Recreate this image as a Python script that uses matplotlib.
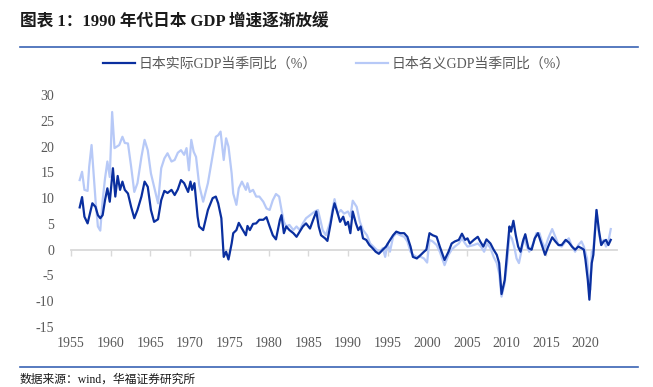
"""图表 1：1990 年代日本 GDP 增速逐渐放缓。"""

import matplotlib

matplotlib.use("Agg")
import matplotlib.pyplot as plt
from matplotlib.lines import Line2D

# ── 字体与样式 ──
plt.rcParams.update({
    "font.family": ["Liberation Serif", "Noto Sans CJK SC", "DejaVu Sans"],
    "font.size": 10,
    "axes.unicode_minus": False,
})

TEXT_GRAY = "#595959"
REAL_COLOR = "#0a2f9f"
NOMINAL_COLOR = "#b7c9f7"
RULE_COLOR = "#3a64b4"

# ── 数据（从图中读取，约半年一个点）──
real_years = [
    1956.1, 1956.4, 1956.7, 1957.1, 1957.7, 1958.1, 1958.4, 1958.7, 1959.0, 1959.3,
    1959.6, 1959.9, 1960.3, 1960.6, 1960.9, 1961.2, 1961.5, 1961.8, 1962.2, 1962.6,
    1963.0, 1963.4, 1963.9, 1964.3, 1964.7, 1965.1, 1965.5, 1966.0, 1966.4, 1966.8,
    1967.2, 1967.7, 1968.1, 1968.5, 1968.9, 1969.3, 1969.8, 1970.1, 1970.3, 1970.6,
    1971.0, 1971.2, 1971.7, 1972.3, 1972.9, 1973.3, 1973.6, 1974.0, 1974.3, 1974.6,
    1974.9, 1975.3, 1975.5, 1975.9, 1976.2, 1976.6, 1977.1, 1977.3, 1977.6, 1978.0,
    1978.4, 1978.8, 1979.3, 1979.7, 1980.1, 1980.5, 1980.9, 1981.4, 1981.6, 1981.9,
    1982.2, 1982.6, 1983.1, 1983.5, 1983.9, 1984.3, 1984.7, 1985.2, 1985.6, 1986.0,
    1986.3, 1986.6, 1987.1, 1987.4, 1987.8, 1988.1, 1988.3, 1988.7, 1989.0, 1989.4,
    1989.7, 1990.0, 1990.3, 1990.6, 1991.0, 1991.3, 1991.6, 1991.9, 1992.3, 1992.7,
    1993.1, 1993.5, 1993.9, 1994.4, 1994.8, 1995.2, 1995.7, 1996.1, 1996.6, 1997.1,
    1997.5, 1997.9, 1998.2, 1998.7, 1999.2, 1999.6, 1999.9, 2000.3, 2000.7, 2001.2,
    2001.6, 2002.2, 2002.7, 2003.1, 2003.5, 2004.0, 2004.4, 2004.8, 2005.1, 2005.4,
    2005.9, 2006.4, 2006.7, 2007.1, 2007.5, 2008.0, 2008.4, 2008.8, 2009.1, 2009.4,
    2009.8, 2010.1, 2010.4, 2010.6, 2010.9, 2011.2, 2011.5, 2011.8, 2012.1, 2012.4,
    2012.8, 2013.2, 2013.6, 2014.0, 2014.5, 2014.9, 2015.3, 2015.8, 2016.2, 2016.6,
    2017.0, 2017.5, 2017.9, 2018.3, 2018.7, 2019.1, 2019.5, 2019.8, 2020.0, 2020.3,
    2020.5, 2020.8, 2021.0, 2021.4, 2021.7, 2022.0, 2022.3, 2022.6, 2022.9, 2023.2,
]
real_growth = [
    8.2, 10.2, 6.4, 5.1, 9.0, 8.3, 6.7, 6.1, 6.7, 9.6,
    11.9, 9.3, 15.8, 10.3, 14.3, 11.6, 13.2, 11.6, 10.9, 8.3,
    6.1, 7.7, 10.3, 13.2, 12.2, 7.7, 5.4, 5.9, 9.6, 11.4,
    11.0, 11.6, 10.6, 11.7, 13.5, 12.9, 11.2, 13.2, 11.6, 12.9,
    6.4, 4.5, 3.8, 7.7, 10.0, 10.3, 9.0, 6.1, -1.4, -0.4,
    -1.9, 1.2, 3.2, 3.8, 5.2, 4.1, 2.8, 4.6, 3.8, 5.0,
    5.1, 5.8, 5.8, 6.3, 4.5, 2.8, 2.0, 5.8, 6.7, 3.2,
    4.5, 3.8, 3.2, 2.5, 3.5, 4.5, 5.1, 4.1, 5.8, 7.4,
    4.5, 2.8, 2.2, 1.7, 5.0, 7.7, 9.0, 7.0, 5.4, 6.4,
    4.8, 5.4, 3.2, 7.4, 5.1, 3.8, 4.5, 2.2, 1.9, 0.9,
    0.3, -0.4, -0.8, 0.0, 0.6, 1.6, 2.8, 3.5, 3.2, 3.2,
    2.5, 0.6, -1.4, -1.7, -1.0, -0.4, 0.0, 3.2, 2.8, 2.5,
    0.6, -2.0, -0.4, 1.2, 1.6, 1.9, 3.1, 1.9, 2.2, 1.2,
    1.9, 2.5, 1.6, 0.6, 2.0, 1.2, 0.0, -1.0, -2.6, -8.6,
    -5.9, -0.7, 4.5, 3.5, 5.6, 2.8, 0.6, -0.4, 1.6, 3.0,
    0.3, 0.0, 2.2, 3.2, 0.9, -1.0, 0.6, 2.4, 1.6, 0.9,
    0.9, 1.9, 1.4, 0.6, 0.0, 0.6, 0.3, 0.0, -1.9, -5.9,
    -9.7, -2.6, -1.0, 7.7, 3.8, 0.9, 1.6, 1.9, 0.9, 1.9,
]

nominal_years = [
    1956.1, 1956.4, 1956.7, 1957.1, 1957.3, 1957.6, 1957.8, 1958.1, 1958.4, 1958.7,
    1959.0, 1959.3, 1959.6, 1959.9, 1960.2, 1960.5, 1960.8, 1961.1, 1961.5, 1961.8,
    1962.2, 1962.6, 1963.0, 1963.4, 1963.9, 1964.3, 1964.7, 1965.1, 1965.5, 1966.0,
    1966.4, 1966.8, 1967.2, 1967.7, 1968.1, 1968.5, 1968.9, 1969.3, 1969.6, 1969.9,
    1970.2, 1970.5, 1970.8, 1971.2, 1971.7, 1972.3, 1972.8, 1973.3, 1973.6, 1973.9,
    1974.3, 1974.6, 1974.9, 1975.3, 1975.5, 1975.9, 1976.2, 1976.6, 1977.1, 1977.3,
    1977.6, 1978.0, 1978.4, 1978.8, 1979.3, 1979.7, 1980.1, 1980.5, 1980.9, 1981.3,
    1981.6, 1981.9, 1982.2, 1982.6, 1983.1, 1983.5, 1983.9, 1984.3, 1984.7, 1985.2,
    1985.8, 1986.2, 1986.5, 1986.8, 1987.2, 1987.7, 1988.1, 1988.3, 1988.7, 1989.1,
    1989.5, 1990.0, 1990.3, 1990.6, 1991.1, 1991.5, 1991.9, 1992.4, 1992.8, 1993.2,
    1993.6, 1994.0, 1994.4, 1994.7, 1995.0, 1995.3, 1995.7, 1996.1, 1996.6, 1997.1,
    1997.5, 1997.9, 1998.2, 1998.7, 1999.2, 1999.6, 2000.0, 2000.3, 2000.7, 2001.2,
    2001.6, 2002.2, 2002.7, 2003.1, 2003.5, 2004.0, 2004.4, 2004.8, 2005.1, 2005.9,
    2006.4, 2006.8, 2007.2, 2007.6, 2008.0, 2008.4, 2008.8, 2009.1, 2009.4, 2009.8,
    2010.1, 2010.4, 2010.7, 2011.0, 2011.3, 2011.6, 2011.9, 2012.2, 2012.6, 2012.9,
    2013.4, 2013.8, 2014.2, 2014.5, 2014.9, 2015.3, 2015.8, 2016.2, 2016.6, 2017.0,
    2017.5, 2017.9, 2018.3, 2018.7, 2019.1, 2019.5, 2019.8, 2020.2, 2020.4, 2020.6,
    2020.8, 2021.0, 2021.4, 2021.7, 2022.0, 2022.3, 2022.6, 2022.9, 2023.2,
]
nominal_growth = [
    13.5, 15.1, 11.6, 11.4, 16.1, 20.3, 16.1, 9.6, 4.5, 3.7,
    9.6, 13.8, 17.1, 14.1, 26.7, 19.7, 20.0, 20.3, 21.9, 20.7,
    20.6, 16.1, 11.2, 12.9, 18.0, 21.3, 19.3, 14.8, 12.2, 9.0,
    15.8, 17.7, 18.7, 17.1, 17.4, 18.8, 19.3, 18.4, 19.7, 15.4,
    21.3, 19.0, 18.0, 12.5, 9.3, 12.9, 17.4, 21.9, 22.2, 22.9,
    17.4, 21.6, 20.0, 14.8, 10.9, 8.7, 11.9, 13.2, 11.6, 12.9,
    11.2, 11.6, 10.3, 10.3, 9.3, 8.0, 7.7, 9.6, 10.8, 10.3,
    7.7, 5.4, 4.5, 4.8, 3.8, 4.5, 3.8, 5.1, 6.1, 6.7,
    7.4, 7.7, 5.8, 3.8, 2.8, 5.1, 8.3, 9.8, 7.0, 7.7,
    7.0, 7.4, 6.4, 9.5, 8.3, 5.4, 3.8, 2.8, 1.2, 0.6,
    0.0, -0.4, 0.3, -1.4, 1.2, -0.4, 2.5, 3.2, 2.8, 2.5,
    1.6, -0.4, -1.0, -1.4, -1.4, -1.7, -2.5, 1.9, 1.6, 0.9,
    -0.4, -3.0, -1.0, 0.0, 0.6, 1.2, 2.2, 1.2, 0.6, 0.9,
    1.2, 0.6, -0.4, 1.2, 0.3, -1.4, -2.6, -4.6, -9.1, -6.5,
    -2.6, 2.8, 2.2, 0.6, -1.7, -2.6, -0.4, 2.2, 0.6, -0.4,
    1.2, 3.2, 3.2, 1.6, 0.3, 2.2, 4.0, 2.5, 0.9, 0.6,
    1.6, 2.2, 0.6, -0.4, 0.9, 1.6, 0.6, -1.7, -5.2, -7.8,
    -0.4, 0.0, 7.7, 3.2, 0.9, 1.9, 0.6, 1.6, 4.0,
]

x_ticks = list(range(1955, 2021, 5))
y_ticks = list(range(-15, 31, 5))

# ── 画布 ──
fig = plt.figure(figsize=(6.53, 3.87), dpi=100)
ax = fig.add_axes([0.1087, 0.155, 0.8363, 0.5995])

ax.plot(real_years, real_growth, color=REAL_COLOR, linewidth=1.6, label="日本实际GDP当季同比（%）", zorder=3)
ax.plot(nominal_years, nominal_growth, color=NOMINAL_COLOR, linewidth=1.6, label="日本名义GDP当季同比（%）", zorder=2)

ax.set_xlim(1955, 2024)
ax.set_ylim(-15, 30)

# 横轴线放在 0 处，刻度标签放到底部
for side in ("top", "right", "left"):
    ax.spines[side].set_visible(False)
ax.spines["bottom"].set_position(("data", 0))
ax.spines["bottom"].set_color("#d9d9d9")
ax.spines["bottom"].set_linewidth(1.3)
ax.spines["bottom"].set_zorder(1)

ax.set_xticks(x_ticks)
ax.set_xticklabels([str(y) for y in x_ticks])
ax.tick_params(axis="x", direction="out", length=4, width=1, color="#d9d9d9",
               pad=59, labelsize=10, labelcolor=TEXT_GRAY)
ax.set_yticks(y_ticks)
ax.tick_params(axis="y", length=0, pad=12, labelsize=10, labelcolor=TEXT_GRAY)
ax.grid(False)

ax.legend(loc="center", bbox_to_anchor=(0.515, 0.835), bbox_transform=fig.transFigure,
          ncol=2, frameon=False, fontsize=10, handlelength=2.3, handletextpad=0.25,
          columnspacing=2.8, labelcolor=TEXT_GRAY)

# ── 标题、分隔线、来源 ──
fig.text(20 / 653, 1 - 22 / 387, "图表 1：1990 年代日本 GDP 增速逐渐放缓",
         fontsize=12, fontweight="bold", ha="left", va="center", color="#1a1a1a")
fig.add_artist(Line2D([20 / 653, 638 / 653], [1 - 47 / 387] * 2, color=RULE_COLOR, linewidth=1.2))
fig.add_artist(Line2D([20 / 653, 638 / 653], [1 - 367 / 387] * 2, color=RULE_COLOR, linewidth=1.2))
fig.text(20 / 653, 1 - 380 / 387, "数据来源：wind，华福证券研究所",
         fontsize=8.5, ha="left", va="center", color="#1a1a1a")

fig.savefig("out.png", dpi=100)
plt.close(fig)
